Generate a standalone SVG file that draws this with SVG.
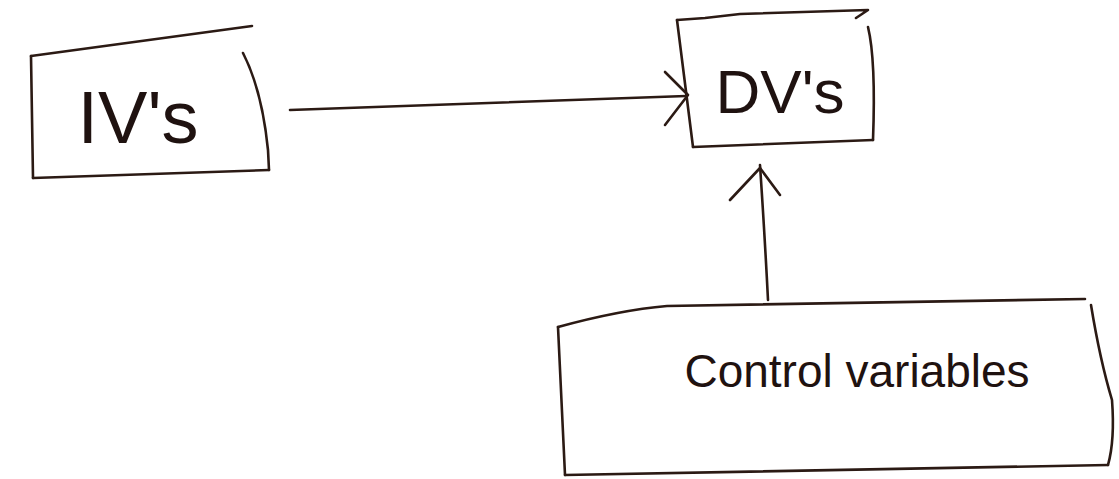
<svg xmlns="http://www.w3.org/2000/svg" width="1119" height="479" viewBox="0 0 1119 479">
<style>
.ln{fill:none;stroke:#2b1a14;stroke-width:2.6;stroke-linecap:round;stroke-linejoin:round}
.tx{font-family:"Liberation Sans",Arial,sans-serif;fill:#1f1210}
</style>
<rect width="1119" height="479" fill="#ffffff"/>
<g id="node-ivs">
<path class="ln" d="M31,56 L252,26"/>
<path class="ln" d="M243,53 Q262,90 268,150 L269,170"/>
<path class="ln" d="M33,178 L269,170"/>
<path class="ln" d="M31,56 L33,178"/>
<text class="tx" x="138" y="143" font-size="74" text-anchor="middle">IV's</text>
</g>
<g id="node-dvs">
<path class="ln" d="M677,20 L705,18 L740,14 L868,10 L856,18"/>
<path class="ln" d="M868,27 Q876,60 873,140"/>
<path class="ln" d="M693,147 L873,140"/>
<path class="ln" d="M677,20 L693,147"/>
<text class="tx" x="780" y="113" font-size="62" text-anchor="middle">DV's</text>
</g>
<g id="node-control">
<path class="ln" d="M558,327 Q620,310 667,306 L1085,299"/>
<path class="ln" d="M1091,305 Q1100,360 1112,400 Q1115,440 1108,465"/>
<path class="ln" d="M565,475 L1108,465"/>
<path class="ln" d="M558,327 L565,475"/>
<text class="tx" x="857" y="387" font-size="46" text-anchor="middle">Control variables</text>
</g>
<g id="connectors">
<path class="ln" d="M290,110 L686,96"/>
<path class="ln" d="M665,72 L688,95 L665,125"/>
<path class="ln" d="M768,300 Q765,240 760,165"/>
<path class="ln" d="M730,200 L760,168 L780,195"/>
</g>
</svg>
